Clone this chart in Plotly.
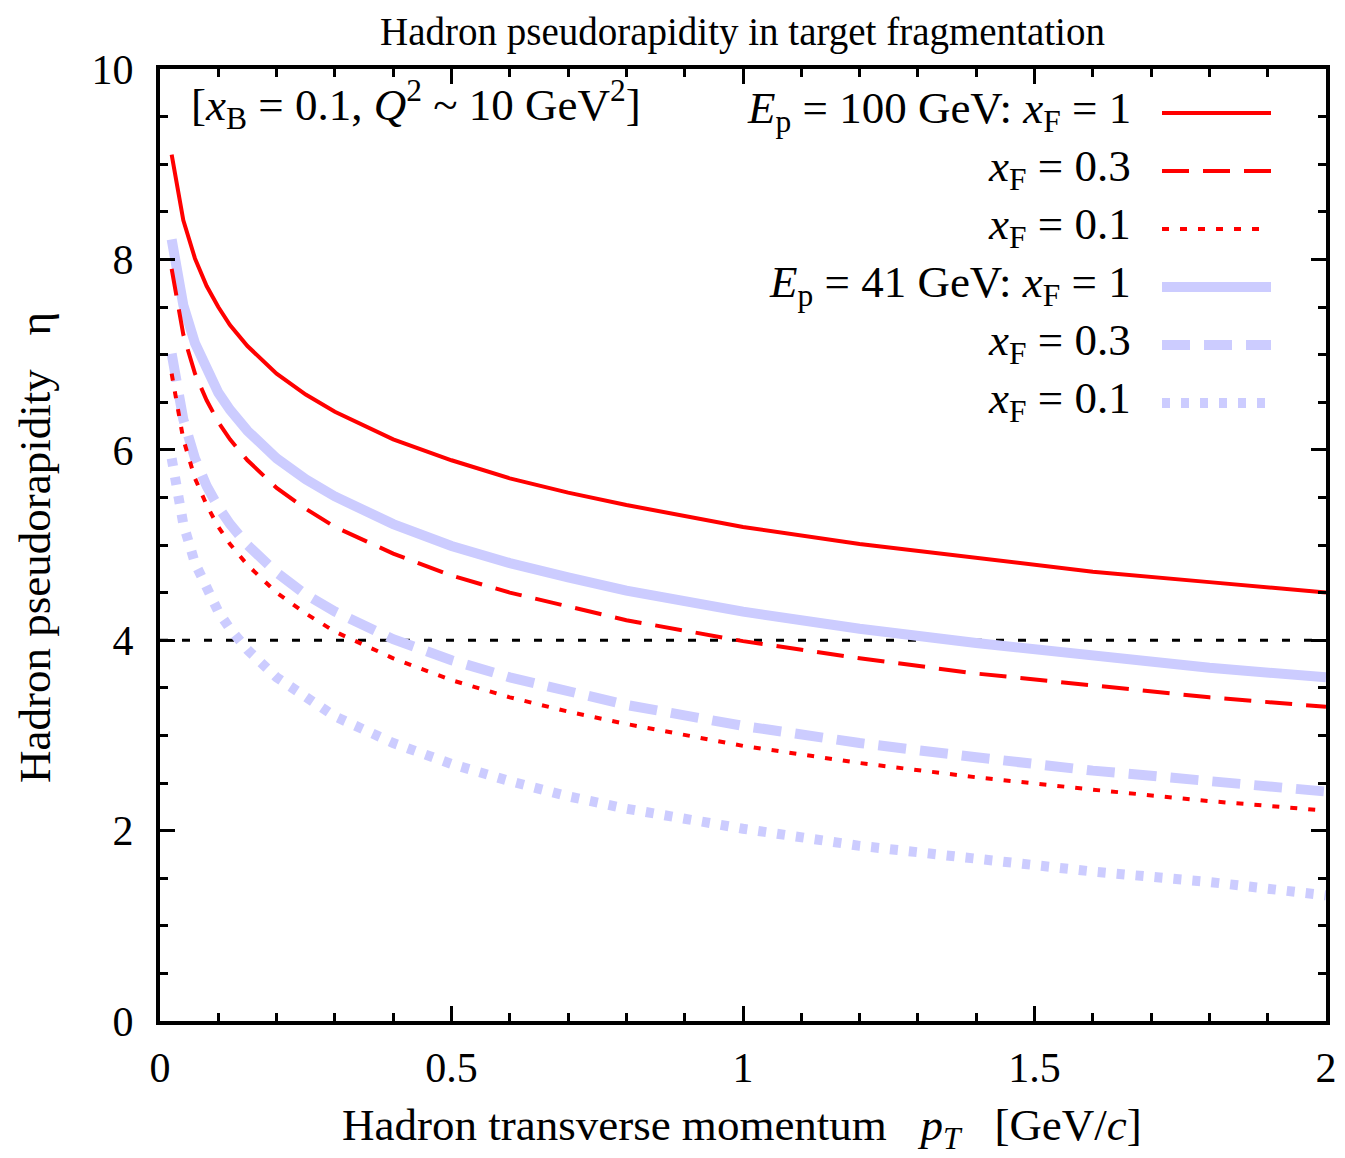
import plotly.graph_objects as go

# ---------------- data ----------------
pt = [0.02, 0.04, 0.06, 0.08, 0.10, 0.12, 0.15, 0.20, 0.25, 0.30, 0.40, 0.50,
      0.60, 0.70, 0.80, 1.00, 1.20, 1.40, 1.60, 1.80, 2.00]

eta_100_xf1 = [9.10, 8.41, 8.01, 7.72, 7.50, 7.31, 7.09, 6.80, 6.58, 6.40, 6.11, 5.89,
               5.70, 5.55, 5.42, 5.19, 5.01, 4.86, 4.72, 4.61, 4.50]
eta_100_xf03 = [7.90, 7.21, 6.80, 6.52, 6.29, 6.11, 5.89, 5.60, 5.38, 5.19, 4.91, 4.68,
                4.50, 4.35, 4.21, 3.99, 3.81, 3.65, 3.52, 3.40, 3.30]
eta_100_xf01 = [6.80, 6.11, 5.70, 5.42, 5.19, 5.01, 4.79, 4.50, 4.28, 4.09, 3.81, 3.58,
                3.40, 3.25, 3.12, 2.89, 2.71, 2.56, 2.43, 2.31, 2.21]
eta_41_xf1 = [8.21, 7.52, 7.12, 6.83, 6.60, 6.42, 6.20, 5.91, 5.69, 5.51, 5.22, 4.99,
              4.81, 4.66, 4.52, 4.30, 4.12, 3.97, 3.83, 3.71, 3.61]
eta_41_xf03 = [7.01, 6.32, 5.91, 5.62, 5.40, 5.22, 5.00, 4.71, 4.48, 4.30, 4.01, 3.79,
               3.61, 3.46, 3.32, 3.10, 2.92, 2.77, 2.63, 2.52, 2.41]
eta_41_xf01 = [5.91, 5.22, 4.81, 4.53, 4.30, 4.12, 3.90, 3.61, 3.39, 3.20, 2.92, 2.70,
               2.52, 2.36, 2.23, 2.02, 1.84, 1.70, 1.57, 1.46, 1.32]

ref_line_x = [0, 2]
ref_line_y = [4, 4]

x_ticks = [0, 0.5, 1, 1.5, 2]
x_tick_labels = ["0", "0.5", "1", "1.5", "2"]
y_ticks = [0, 2, 4, 6, 8, 10]
y_tick_labels = ["0", "2", "4", "6", "8", "10"]

legend_labels = [
    "<i>E</i><sub>p</sub> = 100 GeV: <i>x</i><sub>F</sub> = 1",
    "<i>x</i><sub>F</sub> = 0.3",
    "<i>x</i><sub>F</sub> = 0.1",
    "<i>E</i><sub>p</sub> = 41 GeV: <i>x</i><sub>F</sub> = 1",
    "<i>x</i><sub>F</sub> = 0.3",
    "<i>x</i><sub>F</sub> = 0.1",
]

# ---------------- styles ----------------
RED = "#ff0000"
LAV = "#ccccff"
FONT = "Liberation Serif, Times New Roman, serif"

styles = [
    dict(color=RED, width=4, dash="solid"),
    dict(color=RED, width=4, dash="27px,14px"),
    dict(color=RED, width=4, dash="7px,11px"),
    dict(color=LAV, width=10, dash="solid"),
    dict(color=LAV, width=10, dash="28px,14px"),
    dict(color=LAV, width=10, dash="8px,11px"),
]
series = [eta_100_xf1, eta_100_xf03, eta_100_xf01, eta_41_xf1, eta_41_xf03, eta_41_xf01]

fig = go.Figure()

fig.add_trace(go.Scatter(x=ref_line_x, y=ref_line_y, mode="lines",
                         line=dict(color="black", width=3, dash="8px,14px"),
                         showlegend=False, hoverinfo="skip"))

# lavender first, red on top
for idx in [3, 4, 5, 0, 1, 2]:
    fig.add_trace(go.Scatter(x=pt, y=series[idx], mode="lines",
                             line=styles[idx], showlegend=False,
                             name=legend_labels[idx]))

# ---------------- geometry (window pixels; page body has an 8px margin) ----------------
OFF = 8
FIG_W, FIG_H = 1345 - OFF, 1158 - OFF
L, R, T, B = 160, 1326, 69, 1021          # plot frame in window pixels
W, H = R - L, B - T


def px(xw):
    return (xw - L) / W


def py(yw):
    return (B - yw) / H


legend_rows_px = [113, 171, 229, 287, 345, 403]
for lab, st, ypx in zip(legend_labels, styles, legend_rows_px):
    yp = py(ypx)
    fig.add_annotation(x=px(1133), y=py(ypx - 2), xref="paper", yref="paper",
                       text=lab, showarrow=False, xanchor="right", yanchor="middle",
                       font=dict(family=FONT, size=45, color="black"))
    dotted = st["dash"] in ("7px,11px", "8px,11px")
    x_end = 1266 if dotted else 1271
    fig.add_shape(type="line", xref="paper", yref="paper",
                  x0=px(1162), x1=px(x_end), y0=yp, y1=yp,
                  line=dict(color=st["color"], width=st["width"], dash=st["dash"]))

fig.add_annotation(x=px(189), y=py(105), xref="paper", yref="paper",
                   text="[<i>x</i><sub>B</sub> = 0.1, <i>Q</i><sup>2</sup> ~ 10 GeV<sup>2</sup>]",
                   showarrow=False, xanchor="left", yanchor="middle",
                   font=dict(family=FONT, size=45, color="black"))

# axis titles as annotations
fig.add_annotation(x=px(742), y=py(1128), xref="paper", yref="paper",
                   text="Hadron transverse momentum \u00a0 <i>p<sub>T</sub></i> \u00a0 [GeV/<i>c</i>]",
                   showarrow=False, xanchor="center", yanchor="middle",
                   font=dict(family=FONT, size=45, color="black"))
fig.add_annotation(x=px(35), y=py(548), xref="paper", yref="paper",
                   text="Hadron pseudorapidity \u00a0 η", textangle=-90,
                   showarrow=False, xanchor="center", yanchor="middle",
                   font=dict(family=FONT, size=45, color="black"))

axis_common = dict(
    showline=True, linecolor="black", linewidth=4, mirror="allticks",
    ticks="inside", ticklen=15, tickwidth=3, tickcolor="black",
    showgrid=False, zeroline=False, automargin=False,
    tickfont=dict(family=FONT, size=42, color="black"),
)

fig.update_xaxes(
    range=[0, 2], tickvals=x_ticks, ticktext=x_tick_labels,
    minor=dict(dtick=0.1, ticks="inside", ticklen=8, tickwidth=3, tickcolor="black", showgrid=False),
    ticklabelstandoff=7,
    **axis_common,
)
fig.update_yaxes(
    range=[0, 10], tickvals=y_ticks, ticktext=y_tick_labels,
    minor=dict(dtick=0.5, ticks="inside", ticklen=8, tickwidth=3, tickcolor="black", showgrid=False),
    ticklabelstandoff=14,
    **axis_common,
)

# title: top of its box sits at the top of the figure
fig.add_annotation(x=px(742), y=py(OFF + 1), xref="paper", yref="paper",
                   text="Hadron pseudorapidity in target fragmentation",
                   showarrow=False, xanchor="center", yanchor="top", borderpad=0,
                   font=dict(family=FONT, size=39, color="black"))

fig.update_layout(
    width=FIG_W, height=FIG_H,
    margin=dict(l=L - OFF, r=FIG_W - (R - OFF), t=T - OFF, b=FIG_H - (B - OFF)),
    plot_bgcolor="white", paper_bgcolor="white",
    showlegend=False,
)

fig.write_html("out.html")
